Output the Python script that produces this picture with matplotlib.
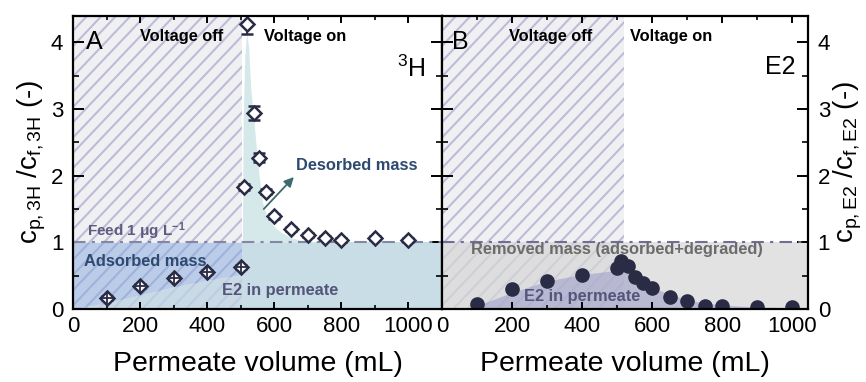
import numpy as np
import matplotlib
matplotlib.use("Agg")
import matplotlib.pyplot as plt
from matplotlib.patches import Rectangle
from matplotlib.collections import LineCollection
from matplotlib.ticker import MultipleLocator

plt.rcParams['font.family'] = ['Liberation Sans', 'DejaVu Sans']
plt.rcParams['mathtext.fontset'] = 'custom'
plt.rcParams['mathtext.rm'] = 'Liberation Sans'
plt.rcParams['mathtext.it'] = 'Liberation Sans:italic'
plt.rcParams['mathtext.bf'] = 'Liberation Sans:bold'

# ---------------- data ----------------
h3_x = [100, 200, 300, 400, 500, 510, 520, 540, 555, 575, 600, 650, 700, 750, 800, 900, 1000]
h3_y = [0.17, 0.34, 0.465, 0.555, 0.625, 1.83, 4.28, 2.94, 2.27, 1.76, 1.39, 1.205, 1.115, 1.065, 1.035, 1.07, 1.04]
h3_err = [0.03, 0.03, 0.03, 0.03, 0.03, 0.04, 0.15, 0.10, 0.07, 0.04, 0.04, 0.03, 0.03, 0.03, 0.03, 0.03, 0.03]

e2_x = [100, 200, 300, 400, 500, 510, 530, 550, 575, 600, 650, 700, 750, 800, 900, 1000]
e2_y = [0.075, 0.30, 0.42, 0.51, 0.61, 0.72, 0.645, 0.485, 0.39, 0.31, 0.175, 0.12, 0.05, 0.045, 0.03, 0.03]

# shaded-area boundaries (panel A)
adsorb_x = [0, 100, 200, 300, 400, 505]
adsorb_y = [0, 0.09, 0.21, 0.33, 0.43, 0.52]
desorb_x = [505, 507, 512, 518, 524, 530, 538, 545, 555, 565, 580, 600, 620, 650, 680, 720, 780]
desorb_y = [1.0, 2.8, 3.8, 4.15, 3.9, 3.3, 2.9, 2.5, 2.0, 1.6, 1.37, 1.24, 1.15, 1.07, 1.03, 1.01, 1.0]
# shaded-area boundary (panel B)
e2perm_x = [70, 100, 200, 300, 400, 500, 550, 600, 650, 700, 750, 800, 900, 1000, 1045]
e2perm_y = [0, 0.05, 0.25, 0.42, 0.52, 0.58, 0.50, 0.33, 0.22, 0.14, 0.09, 0.06, 0.03, 0.02, 0.02]

feed_level = 1.0
switch_A = 505
switch_B = 520
xlim_A = (0, 1100)
xlim_B = (0, 1045)
ylim = (0, 4.4)
yticks = [0, 1, 2, 3, 4]
xticks = [0, 200, 400, 600, 800, 1000]

# ---------------- figure ----------------
fig = plt.figure(figsize=(8.66, 3.82), dpi=100)
axA = fig.add_axes([0.0843, 0.191, 0.4261, 0.768])
axB = fig.add_axes([0.5104, 0.191, 0.4226, 0.768])

HATCH_BG = '#f0f0f2'
HATCH_LN = '#bcbcd9'
DARK = '#2a2b45'


def hatch_region(ax, x1, spacing_px=14.5):
    ax.add_patch(Rectangle((0, 0), 1, 1, transform=ax.transAxes, facecolor='white',
                           edgecolor='none', zorder=-1))
    bg = Rectangle((0, ylim[0]), x1, ylim[1] - ylim[0], facecolor=HATCH_BG,
                   edgecolor='none', zorder=0)
    ax.add_patch(bg)
    fig.canvas.draw()
    bb = ax.get_window_extent()
    W, H = bb.width, bb.height
    segs = []
    c = -H
    while c < W:
        segs.append([(c / W, 0), ((c + H * 0.95) / W, 1)])
        c += spacing_px
    lc = LineCollection(segs, colors=HATCH_LN, linewidths=1.5, transform=ax.transAxes, zorder=0.5)
    ax.add_collection(lc)
    lc.set_clip_path(bg)


for ax, xl in ((axA, xlim_A), (axB, xlim_B)):
    ax.set_xlim(*xl)
    ax.set_ylim(*ylim)

hatch_region(axA, switch_A)
hatch_region(axB, switch_B)

# ---- Panel A fills ----
axA.fill_between(adsorb_x, adsorb_y, feed_level, color='#86a9de', alpha=0.5, lw=0, zorder=1)
axA.fill_between(adsorb_x, 0, adsorb_y, color='#bcd3e2', alpha=0.75, lw=0, zorder=1)
axA.fill_between([switch_A, xlim_A[1]], 0, feed_level, color='#c8dde6', lw=0, zorder=1)
axA.fill_between(desorb_x, feed_level, desorb_y, color='#d6e9ea', lw=0, zorder=1)
axA.axhline(feed_level, color='#8585a5', lw=1.5, ls=(0, (6, 3, 1.5, 3)), zorder=2)

# ---- Panel A data ----
axA.errorbar(h3_x, h3_y, yerr=h3_err, fmt='D', ms=7.5, mfc='white', mec=DARK, mew=1.8,
             ecolor=DARK, elinewidth=1.3, capsize=4.5, capthick=1.3, zorder=3)
axA.plot(h3_x[:5], h3_y[:5], ls='none', marker='+', ms=10, mew=1.3, color=DARK, zorder=4)

axA.annotate('', xy=(664, 2.01), xytext=(563, 1.47),
             arrowprops=dict(arrowstyle='-|>', color='#3e6a6c', lw=1.3, mutation_scale=14), zorder=5)

bold = dict(fontweight='bold', fontsize=11.8)
axA.text(40, 4.0, 'A', fontsize=18, va='center', ha='left', zorder=5)
axA.text(325, 4.08, 'Voltage off', ha='center', va='center', color='black', **bold)
axA.text(568, 4.08, 'Voltage on', ha='left', va='center', color='black', **bold)
axA.text(1008, 3.6, r'$^{3}$H', ha='center', va='center', fontsize=18)
axA.text(846, 2.16, 'Desorbed mass', ha='center', va='center', color='#2e4a70', **bold)
axA.text(43, 1.16, r'Feed 1 μg L$^{\mathbf{-1}}$', ha='left', va='center', color='#5e5b80',
         fontweight='bold', fontsize=11)
axA.text(33, 0.71, 'Adsorbed mass', ha='left', va='center', color='#2e4a70', **bold)
axA.text(618, 0.285, 'E2 in permeate', ha='center', va='center', color='#55557a', **bold)

# ---- Panel B fills ----
axB.fill_between([0, xlim_B[1]], 0, feed_level, color='#d6d6d6', alpha=0.7, lw=0, zorder=1)
axB.fill_between(e2perm_x, 0, e2perm_y, color='#a0a0ca', alpha=0.6, lw=0, zorder=1.2)
axB.axhline(feed_level, color='#6f6f95', lw=1.5, ls=(0, (6, 3, 1.5, 3)), zorder=2)

axB.plot(e2_x, e2_y, ls='none', marker='o', ms=9.5, mfc=DARK, mec=DARK, zorder=3)

axB.text(29, 4.0, 'B', fontsize=18, va='center', ha='left', zorder=5)
axB.text(310, 4.08, 'Voltage off', ha='center', va='center', color='black', **bold)
axB.text(537, 4.08, 'Voltage on', ha='left', va='center', color='black', **bold)
axB.text(967, 3.63, 'E2', ha='center', va='center', fontsize=18)
axB.text(499, 0.9, 'Removed mass (adsorbed+degraded)', ha='center', va='center',
         color='#6b6b6b', zorder=5, **bold)
axB.text(400, 0.185, 'E2 in permeate', ha='center', va='center', color='#55557a', zorder=5, **bold)

# ---- axes styling ----
for ax in (axA, axB):
    ax.set_xticks(xticks)
    ax.set_yticks(yticks)
    ax.xaxis.set_minor_locator(MultipleLocator(100))
    ax.yaxis.set_minor_locator(MultipleLocator(0.5))
    ax.tick_params(which='major', direction='in', length=8, width=1.4, top=True, right=True,
                   labelsize=16)
    ax.tick_params(which='minor', direction='in', length=4, width=1.2, top=True, right=True)
    ax.tick_params(axis='x', which='major', length=5, pad=5)
    ax.tick_params(axis='x', which='minor', length=3)
    ax.tick_params(axis='y', which='major', pad=7)
    for s in ax.spines.values():
        s.set_linewidth(1.6)
        s.set_zorder(6)
    ax.set_xlabel('Permeate volume (mL)', fontsize=20.5, labelpad=10)

axA.tick_params(axis='y', labelleft=True, labelright=False)
axB.tick_params(axis='y', labelleft=False, labelright=True)
axA.set_ylabel(r'c$_{\mathrm{p,3H}}$ /c$_{\mathrm{f,3H}}$ (-)', fontsize=20, labelpad=2)
axB.yaxis.set_label_position('right')
axB.set_ylabel(r'c$_{\mathrm{p,E2}}$ /c$_{\mathrm{f,E2}}$ (-)', fontsize=20, labelpad=1)

fig.savefig('out.png', dpi=100)
